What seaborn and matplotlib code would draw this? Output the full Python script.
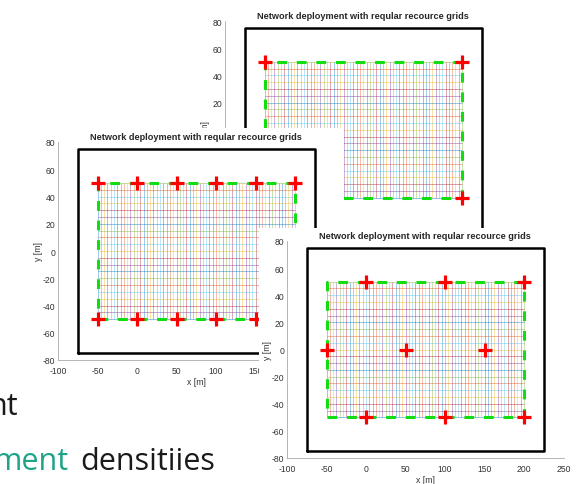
import numpy as np
import matplotlib
matplotlib.use("Agg")
import matplotlib.pyplot as plt
import seaborn as sns
from matplotlib.patches import Rectangle

sns.set_style("white")
plt.rcParams['font.family'] = ['Liberation Sans', 'DejaVu Sans']
plt.rcParams['axes.unicode_minus'] = False

W, H = 582, 485

title = "Network deployment with reqular recource grids"
x_ticks = [-100, -50, 0, 50, 100, 150, 200, 250]
y_ticks = [-80, -60, -40, -20, 0, 20, 40, 60, 80]

# deployment area (green dashed) and outer box (black)
area_x = [-50, 200]
area_y = [-50, 50]
box_x = [-75, 225]
box_y = [-75, 75]

# resource grid: number of cells across / down the area
n_cols = 60
n_rows = 20

# base station positions, one set per screenshot
bs_top_x = [-50, 200, -50, 200]
bs_top_y = [50, 50, -50, -50]
bs_mid_x = [-50, 0, 50, 100, 150, 200, -50, 0, 50, 100, 150, 200]
bs_mid_y = [50, 50, 50, 50, 50, 50, -50, -50, -50, -50, -50, -50]
bs_bot_x = [0, 100, 200, -50, 50, 150, 0, 100, 200]
bs_bot_y = [50, 50, 50, 0, 0, 0, -50, -50, -50]

matlab_colors = ['#0072BD', '#D95319', '#EDB120', '#7E2F8E',
                 '#77AC30', '#4DBEEE', '#A2142F']

fig = plt.figure(figsize=(W / 100, H / 100), dpi=100)
fig.patch.set_facecolor('white')


def px_axes(left, right, top, bottom, z):
    # axes box given in image pixels (y measured from the top)
    ax = fig.add_axes([left / W, 1 - bottom / H, (right - left) / W, (bottom - top) / H])
    ax.set_zorder(z)
    return ax


def cover(left, right, top, bottom, z):
    fig.add_artist(Rectangle((left / W, 1 - bottom / H), (right - left) / W, (bottom - top) / H,
                             transform=fig.transFigure, facecolor='white',
                             edgecolor='none', zorder=z))


def draw_panel(ax, bs_x, bs_y):
    gx = np.linspace(area_x[0], area_x[1], n_cols + 1)
    gy = np.linspace(area_y[0], area_y[1], n_rows + 1)
    for i, x in enumerate(gx):
        ax.vlines(x, area_y[0], area_y[1], color=matlab_colors[i % 7], lw=0.7, alpha=0.38)
    for i, y in enumerate(gy):
        ax.hlines(y, area_x[0], area_x[1], color=matlab_colors[(i * 3) % 7], lw=0.7, alpha=0.42)
    ax.plot([box_x[0], box_x[1], box_x[1], box_x[0], box_x[0]],
            [box_y[0], box_y[0], box_y[1], box_y[1], box_y[0]], color='black', lw=1.8)
    ax.plot([area_x[0], area_x[1], area_x[1], area_x[0], area_x[0]],
            [area_y[0], area_y[0], area_y[1], area_y[1], area_y[0]],
            color='#11dd11', lw=2.2, linestyle=(0, (3.2, 3.2)))
    sns.scatterplot(x=bs_x, y=bs_y, marker='+', s=100, color='red', linewidth=2.3,
                    ax=ax, zorder=5)
    ax.set_xlim(-100, 250)
    ax.set_ylim(-80, 80)
    ax.set_xticks(x_ticks)
    ax.set_yticks(y_ticks)
    ax.set_title(title, fontsize=6.6, fontweight='bold', pad=2.5)
    ax.set_xlabel('x [m]', fontsize=6.2, color='#333333', labelpad=1.5)
    ax.set_ylabel('y [m]', fontsize=6.2, color='#333333', labelpad=0)
    ax.tick_params(direction='in', length=2.5, width=0.6, colors='#999999',
                   labelcolor='#333333', labelsize=6.2)
    ax.tick_params(axis='x', pad=4)
    ax.tick_params(axis='y', pad=2)
    for s in ['top', 'right']:
        ax.spines[s].set_visible(False)
    for s in ['left', 'bottom']:
        ax.spines[s].set_color('#aaaaaa')
        ax.spines[s].set_linewidth(0.6)
    ax.set_facecolor('none')


# back screenshot
ax_top = px_axes(225, 501.5, 22, 239.5, 1)
draw_panel(ax_top, bs_top_x, bs_top_y)

# middle screenshot
cover(0, 344, 129, 393, 2)
ax_mid = px_axes(58, 334.5, 143, 361, 3)
draw_panel(ax_mid, bs_mid_x, bs_mid_y)

# front screenshot
cover(259, 582, 229, 485, 4)
ax_bot = px_axes(287, 563.5, 242, 459, 5)
draw_panel(ax_bot, bs_bot_x, bs_bot_y)

# slide text behind the screenshots
fig.text(18 / W, 1 - 415 / H, 'nt', fontsize=22, family='Open Sans',
         color='#1a1a1a', ha='right', va='baseline', zorder=10)
fig.text(69 / W, 1 - 470 / H, 'ment', fontsize=22, family='Open Sans',
         color='#1fa386', ha='right', va='baseline', zorder=10)
fig.text(80 / W, 1 - 470 / H, 'densitiies', fontsize=22, family='Open Sans',
         color='#1a1a1a', ha='left', va='baseline', zorder=10)

fig.savefig('out.png', dpi=100)
